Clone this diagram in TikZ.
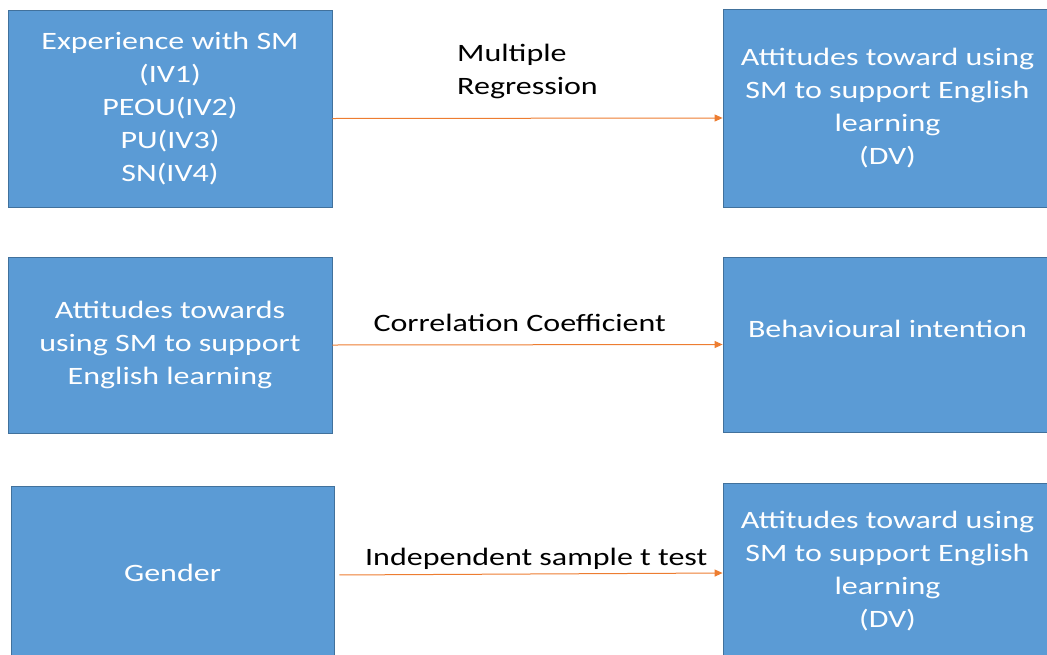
\documentclass[tikz,border=0pt]{standalone}
\usepackage{fontspec}
\setmainfont{Carlito}[FakeStretch=1.28]
\usetikzlibrary{arrows.meta}

\definecolor{boxblue}{HTML}{5B9BD5}
\definecolor{boxedge}{HTML}{41719C}
\definecolor{linkorange}{HTML}{ED7D31}

\tikzset{
  varbox/.style={draw=boxedge, fill=boxblue, line width=0.8pt, text=white,
    align=center, inner sep=0pt, font=\fontsize{25}{33}\selectfont},
  link/.style={linkorange, line width=1pt, -{Triangle[length=8pt,width=7pt]}},
  testlabel/.style={font=\fontsize{25}{33}\selectfont, text=black}
}

\begin{document}
\begin{tikzpicture}[x=1pt, y=-1pt]

% canvas
\useasboundingbox (0,0) rectangle (1047,654);

% Row 1: predictors -> attitudes (DV)
\node[varbox, minimum width=324pt, minimum height=197pt] (exp) at (170,108.5)
  {Experience with SM\\(IV1)\\PEOU(IV2)\\PU(IV3)\\SN(IV4)};
\node[varbox, minimum width=329pt, minimum height=198pt] (att1) at (887.5,108)
  {Attitudes toward using\\SM to support English\\learning\\(DV)};

% Row 2: attitudes -> behavioural intention
\node[varbox, minimum width=324pt, minimum height=176pt] (att2) at (170,345)
  {Attitudes towards\\using SM to support\\English learning};
\node[varbox, minimum width=329pt, minimum height=175pt,
  label={[text=white, font=\fontsize{25}{33}\selectfont, yshift=16pt]center:Behavioural intention}]
  (bi) at (887.5,344.5) {};

% Row 3: gender -> attitudes (DV)
\node[varbox, minimum width=323pt, minimum height=174pt] (gen) at (172.5,573) {Gender};
\node[varbox, minimum width=329pt, minimum height=176pt] (att3) at (887.5,571)
  {Attitudes toward using\\SM to support English\\learning\\(DV)};

% Analyses between the boxes
\draw[link] ([yshift=-10pt]exp.east) -- ([yshift=-10pt]att1.west)
  node[testlabel, align=left, pos=0.5, above=16pt] {Multiple\\Regression};
\draw[link] (att2.east) -- (bi.west)
  node[testlabel, pos=0.48, above=9pt] {Correlation Coefficient};
\draw[link, shorten <=5pt] ([yshift=-2pt]gen.east) -- ([yshift=-2pt]att3.west)
  node[testlabel, pos=0.52, above=1pt] {Independent sample t test};

\end{tikzpicture}
\end{document}
